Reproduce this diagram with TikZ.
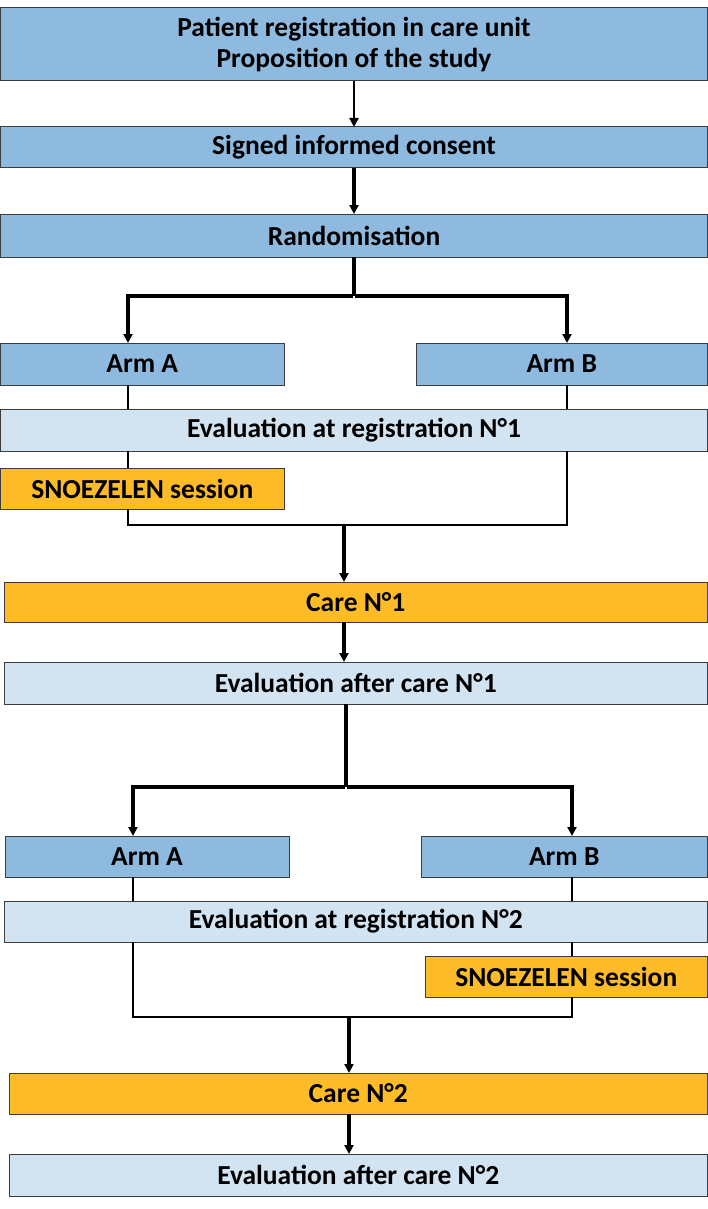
\documentclass[tikz,border=0pt]{standalone}
\usepackage{fontspec}
\setmainfont{Carlito}
\usetikzlibrary{arrows.meta}
\definecolor{bluebox}{RGB}{142,186,223}
\definecolor{lightbox}{RGB}{210,227,241}
\definecolor{orangebox}{RGB}{252,187,39}
\definecolor{edge}{RGB}{60,60,60}
\tikzset{
  box/.style={draw=edge, line width=1pt, rectangle, inner sep=0pt, outer sep=0pt,
    font=\fontsize{27.5}{31}\selectfont\bfseries, align=center, text=black},
  bluebx/.style={box, fill=bluebox},
  lightbx/.style={box, fill=lightbox},
  orangebx/.style={box, fill=orangebox},
  conn/.style={line width=3.2pt, black},
  thinconn/.style={line width=2.8pt, black},
  arr/.style={conn, -{Triangle[length=9pt,width=9pt]}},
}
\begin{document}
\begin{tikzpicture}[x=1pt,y=-1pt]
\useasboundingbox (0,0) rectangle (708,1209);
% boxes
\node[bluebx, minimum width=707pt, minimum height=73pt] (reg) at (354,44.5) {Patient registration in care unit\\Proposition of the study};
\node[bluebx, minimum width=707pt, minimum height=41pt] (cons) at (354,147.5) {Signed informed consent};
\node[bluebx, minimum width=707pt, minimum height=43pt] (rand) at (354,235.5) {Randomisation};
\node[bluebx, minimum width=283.5pt, minimum height=42pt] (armAa) at (142.25,364) {Arm A};
\node[bluebx, minimum width=291.5pt, minimum height=42pt] (armBa) at (561.75,364) {Arm B};
\node[lightbx, minimum width=707pt, minimum height=42pt] (evala) at (354,430) {Evaluation at registration N°1};
\node[orangebx, minimum width=283.5pt, minimum height=41pt] (snoa) at (142.25,488.5) {SNOEZELEN session};
\node[orangebx, minimum width=703.5pt, minimum height=40pt] (carea) at (355.75,602) {Care N°1};
\node[lightbx, minimum width=703.5pt, minimum height=42pt] (evca) at (355.75,683) {Evaluation after care N°1};
\node[bluebx, minimum width=284pt, minimum height=41pt] (armAb) at (147,856.5) {Arm A};
\node[bluebx, minimum width=286.5pt, minimum height=41pt] (armBb) at (564.25,856.5) {Arm B};
\node[lightbx, minimum width=703.5pt, minimum height=41pt] (evalb) at (355.75,921.5) {Evaluation at registration N°2};
\node[orangebx, minimum width=282.5pt, minimum height=41pt] (snob) at (566.25,976.5) {SNOEZELEN session};
\node[orangebx, minimum width=698.5pt, minimum height=41pt] (careb) at (358.25,1093.5) {Care N°2};
\node[lightbx, minimum width=698.5pt, minimum height=42pt] (evcb) at (358.25,1175) {Evaluation after care N°2};
% helper coordinates
\coordinate (xa1) at (128,0);
\coordinate (xb1) at (567,0);
\coordinate (xa2) at (133,0);
\coordinate (xb2) at (572,0);
\coordinate (j1) at (354,296);
\coordinate (m1) at (344,525);
\coordinate (j2) at (346,787);
\coordinate (m2) at (349,1017);
% top chain
\draw[arr, line width=2.6pt] (reg.south -| j1) -- (cons.north -| j1);
\draw[arr] (cons.south -| j1) -- (rand.north -| j1);
\draw[conn] (rand.south -| j1) -- (j1);
\draw[arr] ([xshift=-1pt]j1) -| (armAa.north -| xa1);
\draw[arr] ([xshift=1pt]j1) -| (armBa.north -| xb1);
% arms 1
\draw[thinconn] (armAa.south -| xa1) -- (evala.north -| xa1);
\draw[thinconn] (armBa.south -| xb1) -- (evala.north -| xb1);
\draw[thinconn] (evala.south -| xa1) -- (snoa.north -| xa1);
\draw[thinconn] (snoa.south -| xa1) |- (m1) -| (evala.south -| xb1);
\draw[arr] (m1) -- (carea.north -| m1);
\draw[arr] (carea.south -| m1) -- (evca.north -| m1);
% second part
\draw[conn] (evca.south -| j2) -- (j2);
\draw[arr] ([xshift=-1pt]j2) -| (armAb.north -| xa2);
\draw[arr] ([xshift=1pt]j2) -| (armBb.north -| xb2);
\draw[thinconn] (armAb.south -| xa2) -- (evalb.north -| xa2);
\draw[thinconn] (armBb.south -| xb2) -- (evalb.north -| xb2);
\draw[thinconn] (evalb.south -| xb2) -- (snob.north -| xb2);
\draw[thinconn] (evalb.south -| xa2) |- (m2) -| (snob.south -| xb2);
\draw[arr] (m2) -- (careb.north -| m2);
\draw[arr] (careb.south -| m2) -- (evcb.north -| m2);
\end{tikzpicture}
\end{document}
